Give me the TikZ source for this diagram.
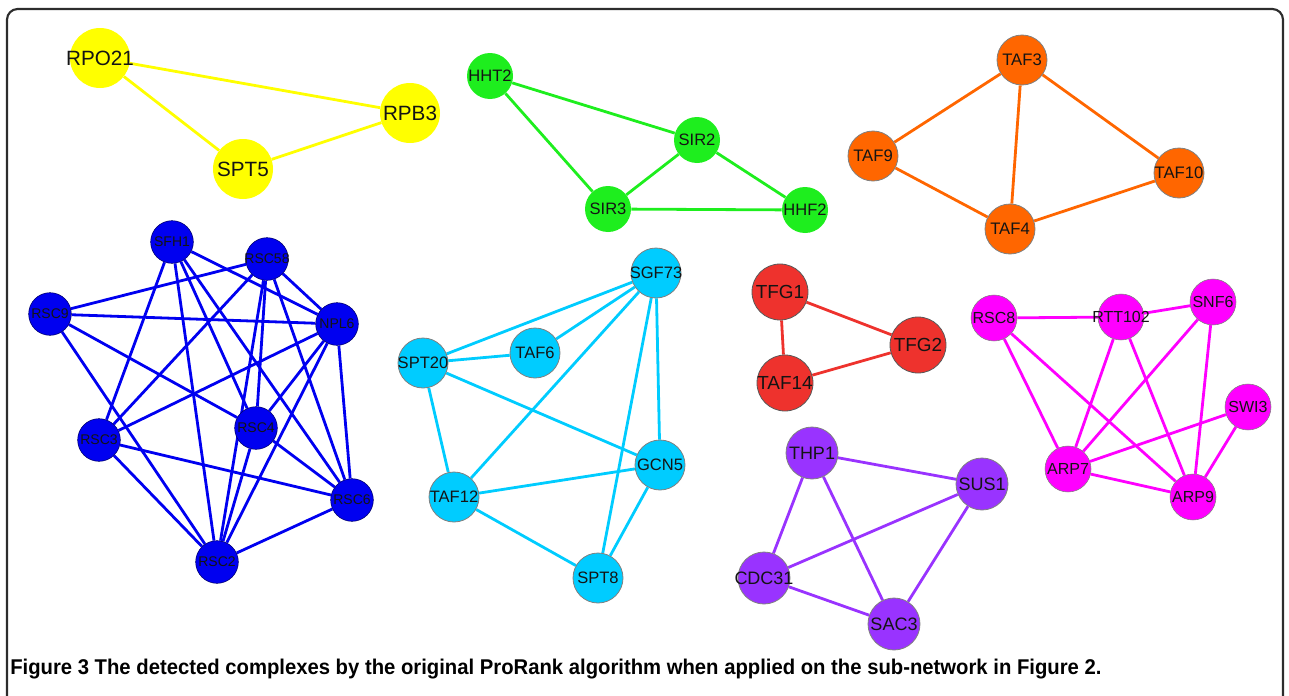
\documentclass[tikz,border=0pt]{standalone}
\usepackage{fontspec}
\setmainfont{Liberation Sans}
\usepackage{tikz}
\pgfdeclarelayer{edges}
\pgfsetlayers{edges,main}

\definecolor{cyel}{RGB}{255,255,0}
\definecolor{cgrn}{RGB}{30,238,30}
\definecolor{corg}{RGB}{255,102,0}
\definecolor{cblu}{RGB}{0,0,240}
\definecolor{ccya}{RGB}{0,204,255}
\definecolor{cred}{RGB}{238,50,45}
\definecolor{cmag}{RGB}{255,0,255}
\definecolor{cpur}{RGB}{153,51,255}
\definecolor{frame}{RGB}{45,45,45}

\begin{document}
\begin{tikzpicture}[x=0.75pt, y=-0.75pt,
	prot/.style={circle, inner sep=0pt, text={rgb,255:red,20;green,20;blue,20},
		execute at begin node=\hbox to 0pt\bgroup\hss, execute at end node=\hss\egroup},
	yel/.style={prot, fill=cyel, minimum size=45pt, font=\fontsize{15.5}{15.5}\selectfont},
	grn/.style={prot, fill=cgrn, minimum size=34.5pt, font=\fontsize{12.4}{12.4}\selectfont},
	org/.style={prot, fill=corg, draw=gray, line width=0.6pt, minimum size=37.5pt, font=\fontsize{12.5}{12.5}\selectfont},
	blu/.style={prot, fill=cblu, draw=blue!40!black, line width=0.4pt, minimum size=32pt, font=\fontsize{10.5}{10.5}\selectfont},
	cya/.style={prot, fill=ccya, draw=gray, line width=0.6pt, minimum size=37.5pt, font=\fontsize{12.4}{12.4}\selectfont},
	red/.style={prot, fill=cred, draw=gray!70!black, line width=0.6pt, minimum size=42pt, font=\fontsize{14.2}{14.2}\selectfont},
	mag/.style={prot, fill=cmag, draw=gray, line width=0.4pt, minimum size=34.5pt, font=\fontsize{12}{12}\selectfont},
	pur/.style={prot, fill=cpur, draw=gray, line width=0.6pt, minimum size=39pt, font=\fontsize{13.5}{13.5}\selectfont},
	link/.style={line width=2.1pt, draw=#1}]

	\useasboundingbox (0,0) rectangle (1289,696);
	\draw[frame, line width=1.6pt, rounded corners=8pt] (7,700) -- (7,9) -- (1283,9) -- (1283,700);

	\node[yel] (RPO21) at (100,58) {RPO21};
	\node[yel] (SPT5) at (243,169) {SPT5};
	\node[yel] (RPB3) at (410,113) {RPB3};

	\node[grn] (HHT2) at (490,76) {HHT2};
	\node[grn] (SIR2) at (697,140) {SIR2};
	\node[grn] (SIR3) at (608,209) {SIR3};
	\node[grn] (HHF2) at (805,210) {HHF2};

	\node[org] (TAF3) at (1022,60) {TAF3};
	\node[org] (TAF9) at (873,156) {TAF9};
	\node[org] (TAF10) at (1179,173) {TAF10};
	\node[org] (TAF4) at (1010,229) {TAF4};

	\node[blu] (SFH1) at (172,242) {SFH1};
	\node[blu] (RSC58) at (267,259) {RSC58};
	\node[blu] (RSC9) at (50,314) {RSC9};
	\node[blu] (NPL6) at (337,324) {NPL6};
	\node[blu] (RSC3) at (99,440) {RSC3};
	\node[blu] (RSC4) at (256,428) {RSC4};
	\node[blu] (RSC6) at (352,500) {RSC6};
	\node[blu] (RSC2) at (217,562) {RSC2};

	\node[cya] (SGF73) at (656,273) {SGF73};
	\node[cya] (TAF6) at (535,353) {TAF6};
	\node[cya] (SPT20) at (423,363) {SPT20};
	\node[cya] (GCN5) at (660,465) {GCN5};
	\node[cya] (TAF12) at (454,497) {TAF12};
	\node[cya] (SPT8) at (598,578) {SPT8};

	\node[red] (TFG1) at (780,292) {TFG1};
	\node[red] (TFG2) at (918,345) {TFG2};
	\node[red] (TAF14) at (785,383) {TAF14};

	\node[mag] (RSC8) at (994,318) {RSC8};
	\node[mag] (RTT102) at (1121,317) {RTT102};
	\node[mag] (SNF6) at (1213,302) {SNF6};
	\node[mag] (SWI3) at (1248,407) {SWI3};
	\node[mag] (ARP7) at (1068,469) {ARP7};
	\node[mag] (ARP9) at (1193,497) {ARP9};

	\node[pur] (THP1) at (812,453) {THP1};
	\node[pur] (SUS1) at (982,484) {SUS1};
	\node[pur] (CDC31) at (764,578) {CDC31};
	\node[pur] (SAC3) at (894,624) {SAC3};

	\node[anchor=base west, inner sep=0pt, font=\fontsize{16}{16}\selectfont\bfseries] (caption) at (10,674)
		{\scalebox{0.95}[1]{Figure 3 The detected complexes by the original ProRank algorithm when applied on the sub-network in Figure 2.}};

	\begin{pgfonlayer}{edges}
	\draw[link=cyel] (RPO21) -- (RPB3);
	\draw[link=cyel] (RPO21) -- (SPT5);
	\draw[link=cyel] (SPT5) -- (RPB3);

	\draw[link=cgrn] (HHT2) -- (SIR2);
	\draw[link=cgrn] (HHT2) -- (SIR3);
	\draw[link=cgrn] (SIR2) -- (SIR3);
	\draw[link=cgrn] (SIR2) -- (HHF2);
	\draw[link=cgrn] (SIR3) -- (HHF2);

	\draw[link=corg] (TAF3) -- (TAF9);
	\draw[link=corg] (TAF3) -- (TAF4);
	\draw[link=corg] (TAF3) -- (TAF10);
	\draw[link=corg] (TAF9) -- (TAF4);
	\draw[link=corg] (TAF4) -- (TAF10);

	\draw[link=cblu] (SFH1) -- (RSC3);
	\draw[link=cblu] (SFH1) -- (RSC2);
	\draw[link=cblu] (SFH1) -- (RSC4);
	\draw[link=cblu] (SFH1) -- (RSC6);
	\draw[link=cblu] (SFH1) -- (NPL6);
	\draw[link=cblu] (RSC58) -- (RSC9);
	\draw[link=cblu] (RSC58) -- (RSC3);
	\draw[link=cblu] (RSC58) -- (RSC4);
	\draw[link=cblu] (RSC58) -- (RSC2);
	\draw[link=cblu] (RSC58) -- (RSC6);
	\draw[link=cblu] (RSC58) -- (NPL6);
	\draw[link=cblu] (RSC9) -- (NPL6);
	\draw[link=cblu] (RSC9) -- (RSC4);
	\draw[link=cblu] (RSC9) -- (RSC2);
	\draw[link=cblu] (NPL6) -- (RSC3);
	\draw[link=cblu] (NPL6) -- (RSC4);
	\draw[link=cblu] (NPL6) -- (RSC2);
	\draw[link=cblu] (NPL6) -- (RSC6);
	\draw[link=cblu] (RSC3) -- (RSC6);
	\draw[link=cblu] (RSC3) -- (RSC2);
	\draw[link=cblu] (RSC4) -- (RSC6);
	\draw[link=cblu] (RSC4) -- (RSC2);
	\draw[link=cblu] (RSC6) -- (RSC2);

	\draw[link=ccya] (SGF73) -- (SPT20);
	\draw[link=ccya] (SGF73) -- (TAF6);
	\draw[link=ccya] (SGF73) -- (TAF12);
	\draw[link=ccya] (SGF73) -- (SPT8);
	\draw[link=ccya] (SGF73) -- (GCN5);
	\draw[link=ccya] (SPT20) -- (TAF6);
	\draw[link=ccya] (SPT20) -- (GCN5);
	\draw[link=ccya] (SPT20) -- (TAF12);
	\draw[link=ccya] (TAF12) -- (GCN5);
	\draw[link=ccya] (TAF12) -- (SPT8);
	\draw[link=ccya] (GCN5) -- (SPT8);

	\draw[link=cred] (TFG1) -- (TFG2);
	\draw[link=cred] (TFG1) -- (TAF14);
	\draw[link=cred] (TAF14) -- (TFG2);

	\draw[link=cmag] (RSC8) -- (RTT102);
	\draw[link=cmag] (RTT102) -- (SNF6);
	\draw[link=cmag] (RSC8) -- (ARP7);
	\draw[link=cmag] (RSC8) -- (ARP9);
	\draw[link=cmag] (RTT102) -- (ARP7);
	\draw[link=cmag] (RTT102) -- (ARP9);
	\draw[link=cmag] (SNF6) -- (ARP7);
	\draw[link=cmag] (SNF6) -- (ARP9);
	\draw[link=cmag] (SWI3) -- (ARP7);
	\draw[link=cmag] (SWI3) -- (ARP9);
	\draw[link=cmag] (ARP7) -- (ARP9);

	\draw[link=cpur] (THP1) -- (SUS1);
	\draw[link=cpur] (THP1) -- (CDC31);
	\draw[link=cpur] (THP1) -- (SAC3);
	\draw[link=cpur] (SUS1) -- (CDC31);
	\draw[link=cpur] (SUS1) -- (SAC3);
	\draw[link=cpur] (CDC31) -- (SAC3);
	\end{pgfonlayer}

\end{tikzpicture}
\end{document}
